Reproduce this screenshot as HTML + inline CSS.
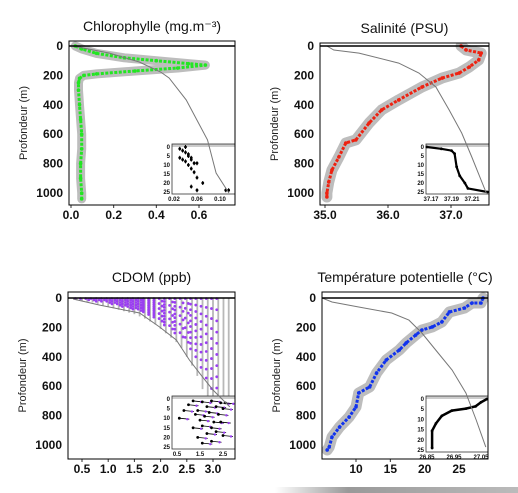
<!DOCTYPE html>
<html><head><meta charset="utf-8"><style>
body{margin:0;background:#fff;}
svg{display:block;font-family:"Liberation Sans",sans-serif;}
.tk{font-weight:bold;font-size:12px;fill:#111;}
.it{font-size:6px;fill:#111;font-weight:bold;}
.ttl{font-size:14px;fill:#111;}
.yl{font-size:11px;fill:#222;}
</style></head><body>
<svg id="fig" width="518" height="493" viewBox="0 0 518 493">
<defs><linearGradient id="gb" x1="0" x2="1"><stop offset="0" stop-color="#fff"/><stop offset="0.3" stop-color="#999"/><stop offset="1" stop-color="#bbb"/></linearGradient></defs>
<rect x="275" y="487" width="243" height="6" fill="url(#gb)"/>
</svg>
<script>
// ---------- data ----------
const chlDepth=[0,20,50,80,100,120,130,150,170,190,200,220,250,300,400,500,600,700,800,900,1000,1040];
const chlValue=[0.02,0.05,0.12,0.25,0.4,0.55,0.63,0.5,0.3,0.12,0.06,0.04,0.035,0.035,0.04,0.045,0.05,0.05,0.045,0.045,0.05,0.05];
const chlRefValue=[0.01,0.18,0.32,0.42,0.46,0.54,0.64,0.68,0.74];
const chlRefDepth=[0,48,109,177,218,367,639,864,1000];
const chlInsetX=[0.03,0.035,0.04,0.045,0.03,0.035,0.04,0.05,0.055,0.06,0.05,0.045,0.05,0.055,0.06,0.07,0.05,0.06,0.11,0.115,0.04,0.045];
const chlInsetD=[1,2,3,4,6,7,8,6,9,9,7,10,12,14,17,20,22,24,24,24,0,5];
const salDepth=[0,27,48,95,143,184,218,279,367,435,524,639,660,755,844,925,1000,1027];
const salValue=[37.16,37.24,37.48,37.44,37.29,37.13,36.86,36.54,36.17,35.9,35.7,35.49,35.33,35.22,35.11,35.06,35.03,35.03];
const salRefValue=[35.03,35.14,35.54,36.17,36.49,36.76,36.97,37.17,37.33,37.56];
const salRefDepth=[0,27,48,116,184,279,435,592,755,1000];
const salInsetX=[37.166,37.18,37.19,37.193,37.195,37.198,37.203,37.206,37.225];
const salInsetD=[0,1,2,3.7,11,16,20,23,25];
const cdomBins=[0.4,0.5,0.6,0.7,0.8,0.9,1.0,1.1,1.2,1.3,1.4,1.5,1.6,1.7,1.8,1.9,2.0,2.1,2.2,2.3,2.4,2.5,2.6,2.7,2.8,2.9,3.0,3.1,3.2,3.3];
const cdomGrayBottom=[15,20,25,30,40,50,60,70,80,90,100,110,125,140,160,180,210,240,270,300,340,400,460,530,620,700,800,900,1000,1000];
const cdomPurpleBottom=[8,12,15,20,25,30,35,45,55,60,70,80,90,100,120,140,170,200,230,260,290,330,380,440,520,600,680,760,0,0];
const cdomRefValue=[0.33,0.84,1.6,1.98,2.3,2.55,2.8,3.0,3.32];
const cdomRefDepth=[7,48,102,197,286,422,537,626,741];
const cdomInsetX=[1.2,1.6,2.0,2.4,2.6,1.0,1.8,2.2,0.8,1.4,2.5,1.9,1.3,2.3,1.7,0.6,1.5,2.1,2.4,1.6,2.0,1.2,2.2,1.8,2.5,1.4,2.0,1.6];
const cdomInsetD=[1,1.5,1,2,2,3,4,4,6,6,5,7,8,8,9,10,11,12,12,14,15,15,17,18,19,20,22,23];
const tmpDepth=[0,34,34,68,95,163,197,218,252,306,354,422,510,605,646,741,810,878,946,1014,1034];
const tmpValue=[28.5,28.2,26.9,25.8,23.6,22.5,21.1,19.6,18.7,17.3,16.3,14.4,13.0,12.0,10.4,10.0,9.0,7.6,6.5,6.1,5.8];
const tmpRefValue=[5.05,6.5,10.4,15.2,17.7,19.6,21.6,24.0,26.0,27.5,28.9];
const tmpRefDepth=[0,27,61,102,150,238,354,490,646,830,1014];
const tmpInsetX=[26.869,26.869,26.883,26.905,26.942,26.994,27.03,27.05,27.072];
const tmpInsetD=[24,15.6,12,8.3,5.7,4.7,3.6,1.6,0];

// ---------- drawing ----------
const svg=document.getElementById('fig');
const NS='http://www.w3.org/2000/svg';
function el(tag,attrs,parent){const e=document.createElementNS(NS,tag);for(const k in attrs)e.setAttribute(k,attrs[k]);(parent||svg).appendChild(e);return e;}
function lin(d0,d1,r0,r1){return v=>r0+(v-d0)*(r1-r0)/(d1-d0);}
function pts(xs,ds,sx,sy){return xs.map((v,i)=>sx(v).toFixed(1)+','+sy(ds[i]).toFixed(1)).join(' ');}

function panel(p){
  const g=el('g',{});
  
  
  const sx=lin(p.x0v,p.x1v,p.x0p,p.x1p), sy=lin(0,1000,p.y0p,p.y1p);
  const t=el('text',{x:(p.L+p.R)/2,y:p.T-10,'text-anchor':'middle',class:'ttl'},g);t.textContent=p.title;
  
  const yl=el('text',{x:0,y:0,'text-anchor':'middle',class:'yl',transform:`translate(${p.L-42},${(p.T+p.B)/2}) rotate(-90)`},g);yl.textContent='Profondeur (m)';
  
  [0,200,400,600,800,1000].forEach(v=>{const tt=el('text',{x:p.L-6,y:sy(v)+4,'text-anchor':'end',class:'tk'},g);tt.textContent=v;
    });
  p.xticks.forEach(v=>{const tt=el('text',{x:sx(v),y:p.B+14,'text-anchor':'middle',class:'tk'},g);tt.textContent=p.fmt(v);
    
    el('line',{x1:sx(v),x2:sx(v),y1:p.B,y2:p.B+3,stroke:'#333'},g);});
  const clip=el('clipPath',{id:'c'+p.name},g);el('rect',{x:p.L,y:p.T,width:p.R-p.L,height:p.B-p.T},clip);
  const inner=el('g',{'clip-path':`url(#c${p.name})`},g);
  p.draw(inner,sx,sy);
  // inset
  const I=p.inset;const ig=el('g',{},g);
  
  el('rect',{x:I.L-3,y:I.T,width:p.R-I.L+3,height:I.B-I.T+10,fill:'#fff'},ig);
  el('rect',{x:I.L,y:I.T,width:p.R-I.L,height:3,fill:'#ccc'},ig);
  el('rect',{x:I.L,y:I.T,width:p.R-I.L,height:I.B-I.T,fill:'none',stroke:'#333','stroke-width':0.8},ig);
  const ix=lin(I.x0v,I.x1v,I.x0p,I.x1p), iy=lin(0,25,I.T+3,I.B-2);
  [0,5,10,15,20,25].forEach(v=>{const tt=el('text',{x:I.L-2,y:iy(v)+2,'text-anchor':'end',class:'it'},ig);tt.textContent=v;});
  I.ticks.forEach(v=>{const tt=el('text',{x:ix(v),y:I.B+7,'text-anchor':'middle',class:'it'},ig);tt.textContent=I.fmt(v);});
  I.draw(ig,ix,iy);
  // reference gray line (on top of inset)
  const top=el('g',{'clip-path':`url(#c${p.name})`},g);
  const rl=el('polyline',{points:pts(p.refX,p.refD,sx,sy),fill:'none',stroke:'#777','stroke-width':1},top);
  
  el('line',{x1:p.L,x2:p.R,y1:sy(0),y2:sy(0),stroke:'#000','stroke-width':1.5},g);
  const bx=el('rect',{x:p.L,y:p.T,width:p.R-p.L,height:p.B-p.T,fill:'none',stroke:'#000','stroke-width':1},g);
  
}

function dotsSeries(g,xs,ds,sx,sy,col,name,envW){
  const env=el('polyline',{points:pts(xs,ds,sx,sy),fill:'none',stroke:'#bdbdbd','stroke-width':envW,'stroke-linejoin':'round','stroke-linecap':'round'},g);
  
  const ln=el('polyline',{points:pts(xs,ds,sx,sy),fill:'none',stroke:col,'stroke-width':3,'stroke-dasharray':'3 1.5'},g);
  
  xs.forEach((v,i)=>{const c=el('circle',{cx:sx(v),cy:sy(ds[i]),r:1.8,fill:col},g);
    });
}

panel({name:'chlorophyll',title:'Chlorophylle (mg.m⁻³)',L:69,R:235,T:41,B:205,x0v:0,x1v:0.6,x0p:71,x1p:199,y0p:46,y1p:193,
  xticks:[0,0.2,0.4,0.6],fmt:v=>v.toFixed(1),refX:chlRefValue,refD:chlRefDepth,
  draw:(g,sx,sy)=>dotsSeries(g,chlValue,chlDepth,sx,sy,'#22e622','chlorophyll',9),
  inset:{L:172,T:144,B:194,x0v:0.02,x1v:0.10,x0p:174,x1p:220,ticks:[0.02,0.06,0.10],fmt:v=>v.toFixed(2),
    draw:(g,ix,iy)=>chlInsetX.forEach((v,i)=>{el('line',{x1:ix(v),x2:ix(v),y1:iy(chlInsetD[i])-2,y2:iy(chlInsetD[i])+2,stroke:'#000'},g);
      const c=el('circle',{cx:ix(v),cy:iy(chlInsetD[i]),r:1.4,fill:'#000'},g);})}
});
panel({name:'salinity',title:'Salinité (PSU)',L:320,R:489,T:43,B:205,x0v:35,x1v:37,x0p:325,x1p:451,y0p:46,y1p:193,
  xticks:[35,36,37],fmt:v=>v.toFixed(1),refX:salRefValue,refD:salRefDepth,
  draw:(g,sx,sy)=>dotsSeries(g,salValue,salDepth,sx,sy,'#ee2211','salinity',11),
  inset:{L:426,T:144,B:194,x0v:37.17,x1v:37.21,x0p:431,x1p:472,ticks:[37.17,37.19,37.21],fmt:v=>v.toFixed(2),
    draw:(g,ix,iy)=>{el('polyline',{points:pts(salInsetX,salInsetD,ix,iy),fill:'none',stroke:'#000','stroke-width':2.2},g);
      salInsetX.forEach((v,i)=>{const c=el('circle',{cx:ix(v),cy:iy(salInsetD[i]),r:1.4,fill:'#000'},g);});}}
});
panel({name:'cdom',title:'CDOM (ppb)',L:68,R:235,T:292,B:459,x0v:0.5,x1v:3.0,x0p:82,x1p:213,y0p:298,y1p:445,
  xticks:[0.5,1,1.5,2,2.5,3],fmt:v=>v.toFixed(1),refX:cdomRefValue,refD:cdomRefDepth,
  draw:(g,sx,sy)=>{cdomBins.forEach((v,i)=>{
      const b=el('rect',{x:sx(v)-0.9,y:sy(0),width:1.8,height:sy(cdomGrayBottom[i])-sy(0),fill:'#b8b8b8'},g);
      
      const pb=cdomPurpleBottom[i];
      if(pb>0){for(let d=4;d<=pb;d+=Math.max(9,pb/10)){
        const c=el('circle',{cx:sx(v)+(Math.round(d)%2?1.5:-1.5),cy:sy(d),r:1.4,fill:'#9a3ff0'},g);
        }}
    });},
  inset:{L:172,T:396,B:449,x0v:0.5,x1v:2.5,x0p:177,x1p:223,ticks:[0.5,1.5,2.5],fmt:v=>v.toFixed(1),
    draw:(g,ix,iy)=>cdomInsetX.forEach((v,i)=>{el('line',{x1:ix(v),x2:ix(v)+10,y1:iy(cdomInsetD[i]),y2:iy(cdomInsetD[i])+1,stroke:'#000','stroke-width':0.8},g);
      el('circle',{cx:ix(v)+8,cy:iy(cdomInsetD[i])+1,r:1.2,fill:'#9a3ff0'},g);
      const c=el('circle',{cx:ix(v),cy:iy(cdomInsetD[i]),r:1.4,fill:'#000'},g);})}
});
panel({name:'temperature',title:'Température potentielle (°C)',L:322,R:488,T:292,B:459,x0v:10,x1v:25,x0p:356,x1p:459,y0p:298,y1p:445,
  xticks:[10,15,20,25],fmt:v=>String(v),refX:tmpRefValue,refD:tmpRefDepth,
  draw:(g,sx,sy)=>dotsSeries(g,tmpValue,tmpDepth,sx,sy,'#1133ee','temperature',11),
  inset:{L:426,T:396,B:452,x0v:26.85,x1v:27.05,x0p:427,x1p:481,ticks:[26.85,26.95,27.05],fmt:v=>v.toFixed(2),
    draw:(g,ix,iy)=>{el('polyline',{points:pts(tmpInsetX,tmpInsetD,ix,iy),fill:'none',stroke:'#000','stroke-width':2.5},g);
      tmpInsetX.forEach((v,i)=>{const c=el('circle',{cx:ix(v),cy:iy(tmpInsetD[i]),r:1.4,fill:'#000'},g);});}}
});
</script>
</body></html>
